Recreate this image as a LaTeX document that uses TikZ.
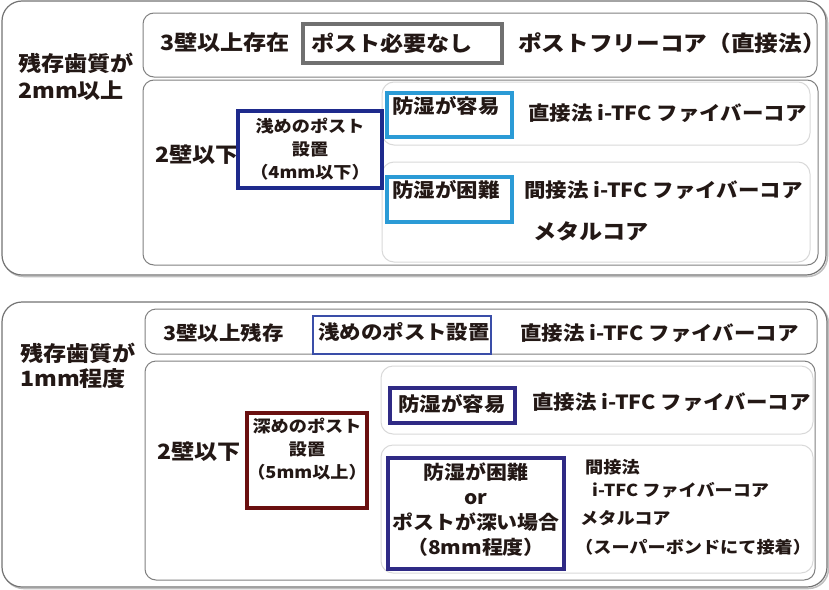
\documentclass[tikz,border=0pt]{standalone}
\usepackage{fontspec}
\setmainfont{Noto Sans CJK JP}[FakeStretch=1.1]
\definecolor{ink}{HTML}{231815}
\definecolor{tagblue}{HTML}{2B9BD6}
\definecolor{tagnavy}{HTML}{1E2A8C}
\definecolor{tagblue2}{HTML}{3A4EA8}
\definecolor{tagred}{HTML}{6A1010}
\definecolor{tagpurple}{HTML}{2F2A85}
\definecolor{taggray}{HTML}{707070}
\begin{document}
\begin{tikzpicture}[x=1pt,y=-1pt,
  box/.style={anchor=north west, inner sep=0pt, outer sep=0pt},
  panel/.style={box, draw=black!55, line width=1.2pt, rounded corners=20pt, fill=white},
  shadowed/.style={box, draw=black!25, line width=1.5pt, rounded corners=20pt},
  rowbox/.style={box, draw=black!50, line width=1pt, rounded corners=11pt, fill=white},
  subbox/.style={box, draw=black!15, line width=1pt, rounded corners=12pt},
  tag/.style={box, draw, line width=3.5pt},
  big/.style={font=\bfseries\fontsize{21}{24}\selectfont, text=ink, inner sep=0pt, anchor=west},
  mid/.style={font=\bfseries\fontsize{19.5}{22}\selectfont, text=ink, inner sep=0pt, anchor=west},
  small/.style={font=\bfseries\fontsize{16.5}{20}\selectfont, text=ink, inner sep=0pt, anchor=west},
  stack/.style={font=\bfseries\fontsize{16.5}{23}\selectfont, text=ink, inner sep=0pt, align=center},
  stackb/.style={font=\bfseries\fontsize{19}{25}\selectfont, text=ink, inner sep=0pt, align=center}
]
\useasboundingbox (0,0) rectangle (829,589);

% ---------- upper panel ----------
\node[shadowed, minimum width=824pt, minimum height=274pt] (p1s) at (3.5,2.5) {};
\node[panel, minimum width=824pt, minimum height=274pt] (p1) at (2,1) {};
\node[rowbox, minimum width=674pt, minimum height=64pt] (r1a) at (143,13) {};
\node[rowbox, minimum width=675pt, minimum height=185pt] (r1b) at (143,80) {};
\node[subbox, minimum width=428pt, minimum height=63pt] (s1a) at (382,82) {};
\node[subbox, minimum width=428pt, minimum height=100pt] (s1b) at (382,162) {};

\node[big] (l1a) at (18,63) {残存歯質が};
\node[big] (l1b) at (18,91) {2mm以上};

\node[mid, font=\bfseries\fontsize{21}{24}\selectfont] (t3wall1) at (160,43) {3壁以上存在};
\node[tag, draw=taggray, minimum width=199pt, minimum height=39pt] (nopost) at (303,24) {};
\node[big] (nopostt) at (311,43) {ポスト必要なし};
\node[mid, font=\bfseries\fontsize{21.5}{24}\selectfont] (free) at (518,43) {ポストフリーコア（直接法）};

\node[big] (t2wall1) at (155,155) {2壁以下};
\node[tag, draw=tagnavy, minimum width=144pt, minimum height=77pt] (shallow1) at (238,111) {};
\node[stack] (shallow1t) at (310,149) {浅めのポスト\\設置\\（4mm以下）};

\node[tag, draw=tagblue, minimum width=125pt, minimum height=44pt] (easy1) at (387,93) {};
\node[mid] (easy1t) at (392,106) {防湿が容易};
\node[tag, draw=tagblue, minimum width=125pt, minimum height=45pt] (hard1) at (387,177) {};
\node[mid] (hard1t) at (392,190) {防湿が困難};

\node[mid] (direct1) at (528,113) {直接法 i-TFC ファイバーコア};
\node[mid] (indirect1) at (524,190) {間接法 i-TFC ファイバーコア};
\node[big] (metal1) at (533,231) {メタルコア};

% ---------- lower panel ----------
\node[shadowed, minimum width=825pt, minimum height=285pt] (p2s) at (3.5,303.5) {};
\node[panel, minimum width=825pt, minimum height=285pt] (p2) at (2,302) {};
\node[rowbox, minimum width=672pt, minimum height=45pt] (r2a) at (145,309) {};
\node[rowbox, minimum width=670pt, minimum height=219pt] (r2b) at (145,361) {};
\node[subbox, minimum width=432pt, minimum height=68pt] (s2a) at (381,366) {};
\node[subbox, minimum width=432pt, minimum height=128pt] (s2b) at (381,445) {};

\node[big] (l2a) at (20,353) {残存歯質が};
\node[big] (l2b) at (20,379) {1mm程度};

\node[mid] (t3wall2) at (163,333) {3壁以上残存};
\node[tag, draw=tagblue2, line width=2.8pt, minimum width=178pt, minimum height=38pt] (shallow2) at (313,316) {};
\node[mid] (shallow2t) at (318,332) {浅めのポスト設置};
\node[mid] (direct2) at (520,333) {直接法 i-TFC ファイバーコア};

\node[big] (t2wall2) at (157,452) {2壁以下};
\node[tag, draw=tagred, minimum width=120pt, minimum height=95pt] (deep) at (247,413) {};
\node[stack] (deept) at (307,449) {深めのポスト\\設置\\（5mm以上）};

\node[tag, draw=tagpurple, minimum width=125pt, minimum height=35pt] (easy2) at (390,388) {};
\node[mid] (easy2t) at (398,404) {防湿が容易};
\node[mid] (direct3) at (532,402) {直接法 i-TFC ファイバーコア};

\node[tag, draw=tagpurple, minimum width=176pt, minimum height=111pt] (hard2) at (388,458) {};
\node[stackb] (hard2t) at (476,510) {防湿が困難\\or\\ポストが深い場合\\（8mm程度）};

\node[small] (ind2a) at (585,467) {間接法};
\node[small] (ind2b) at (592,490) {i-TFC ファイバーコア};
\node[small] (metal2) at (580,518) {メタルコア};
\node[small] (bond) at (575,547) {（スーパーボンドにて接着）};
\end{tikzpicture}
\end{document}
